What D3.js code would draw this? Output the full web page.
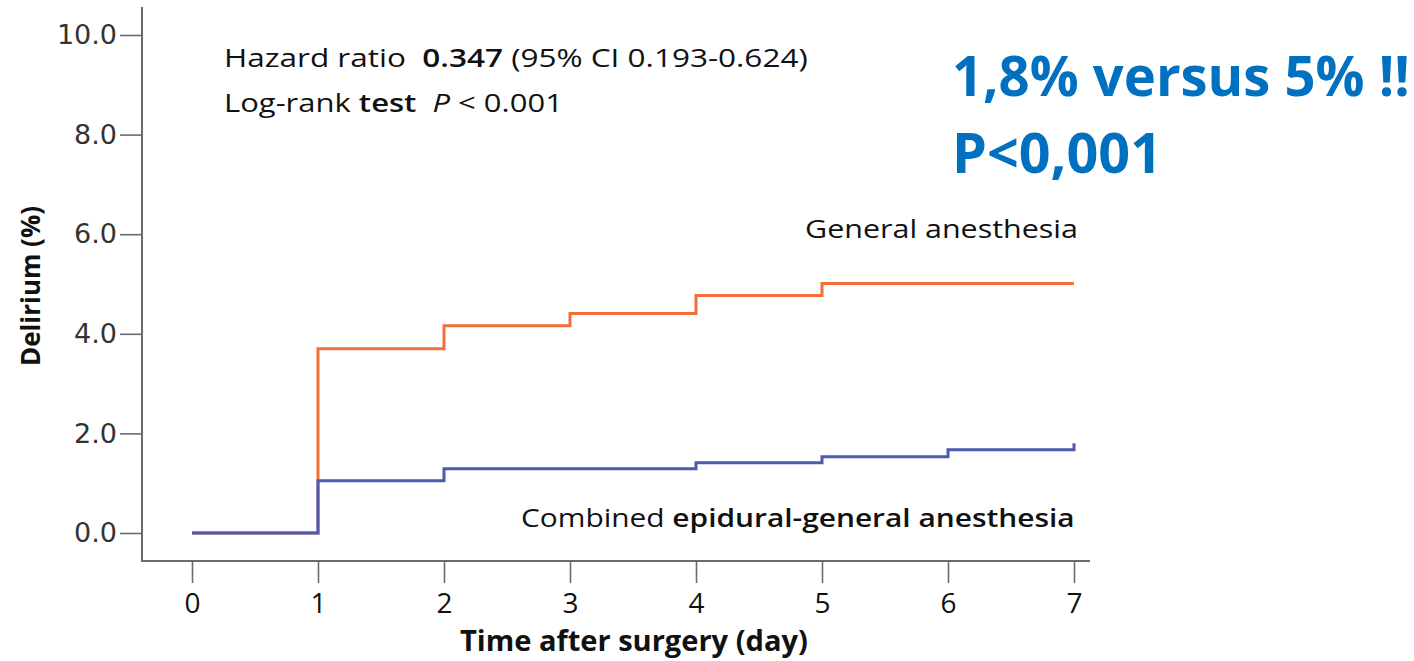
<!DOCTYPE html>
<html>
<head>
<meta charset="utf-8">
<script src="https://cdn.jsdelivr.net/npm/d3@7"></script>
<style>
  html, body { margin: 0; padding: 0; background: #fff; }
  svg { display: block; }
</style>
</head>
<body>
<div id="chart"></div>
<script>
// cumulative incidence of delirium (%) by day after surgery
const days = [0, 1, 2, 3, 4, 5, 6, 7];
const generalValues = [0, 3.7, 4.16, 4.41, 4.77, 5.01, 5.01, 5.01];
const combinedValues = [0, 1.05, 1.29, 1.29, 1.41, 1.53, 1.67, 1.8];
const yTicks = [0, 2, 4, 6, 8, 10];
const xTicks = [0, 1, 2, 3, 4, 5, 6, 7];

const W = 1414, H = 661;
const svg = d3.select('#chart').append('svg').attr('width', W).attr('height', H);

const x = d3.scaleLinear().domain([0, 7]).range([192, 1074]);
const y = d3.scaleLinear().domain([0, 10]).range([533, 35]);

// squeeze / stretch a text element so it spans a given width from its start
function fitWidth(sel, x0, target) {
  const w = sel.node().getComputedTextLength();
  sel.attr('transform', `translate(${x0},0) scale(${target / w},1) translate(${-x0},0)`);
}

const axisColor = '#6b6b6b';
const font = '"Open Sans", sans-serif';

// y axis
const yAxis = svg.append('g')
  .attr('transform', 'translate(142,0)')
  .call(d3.axisLeft(y).tickValues(yTicks).tickSize(22).tickPadding(3).tickFormat(d3.format('.1f')));
yAxis.select('.domain').remove();
yAxis.selectAll('.tick line').attr('stroke', axisColor).attr('stroke-width', 1.6);
yAxis.selectAll('.tick text')
  .attr('fill', '#333')
  .style('font-family', '"DejaVu Sans", sans-serif')
  .style('font-size', '27px');

// x axis
const xAxis = svg.append('g')
  .attr('transform', 'translate(0,561)')
  .call(d3.axisBottom(x).tickValues(xTicks).tickSize(22).tickPadding(10).tickFormat(d3.format('d')));
xAxis.select('.domain').remove();
xAxis.selectAll('.tick line').attr('stroke', axisColor).attr('stroke-width', 1.6);
xAxis.selectAll('.tick text')
  .attr('fill', '#111')
  .style('font-family', font)
  .style('font-size', '28px');

// axis frame lines
svg.append('line').attr('x1', 142).attr('x2', 142).attr('y1', 7).attr('y2', 562)
  .attr('stroke', axisColor).attr('stroke-width', 2);
svg.append('line').attr('x1', 141).attr('x2', 1090).attr('y1', 561).attr('y2', 561)
  .attr('stroke', axisColor).attr('stroke-width', 2.2);

// step curves
const line = d3.line()
  .x((d, i) => x(days[i]))
  .y(d => y(d))
  .curve(d3.curveStepAfter);

svg.append('path').datum(generalValues)
  .attr('d', line).attr('fill', 'none')
  .attr('stroke', '#f26f3c').attr('stroke-width', 3);
svg.append('path').datum(combinedValues)
  .attr('d', line).attr('fill', 'none')
  .attr('stroke', '#4a5bb0').attr('stroke-width', 3);

// annotations
const t1 = svg.append('text').attr('x', 224).attr('y', 67)
  .style('font-family', font).style('font-size', '25px').attr('fill', '#111');
t1.append('tspan').text('Hazard ratio\u00a0 ');
t1.append('tspan').attr('font-weight', 600).text('0.347');
t1.append('tspan').text(' (95% CI 0.193-0.624)');
fitWidth(t1, 224, 584);

const t2 = svg.append('text').attr('x', 224).attr('y', 112)
  .style('font-family', font).style('font-size', '25px').attr('fill', '#111');
t2.append('tspan').text('Log-rank ');
t2.append('tspan').attr('font-weight', 600).text('test\u00a0 ');
t2.append('tspan').attr('font-style', 'italic').text('P');
t2.append('tspan').text(' < 0.001');
fitWidth(t2, 224, 339);

const t3 = svg.append('text').attr('x', 805).attr('y', 238)
  .style('font-family', font).style('font-size', '25px').attr('font-weight', 500)
  .attr('fill', '#111').text('General anesthesia');
fitWidth(t3, 805, 273);

const t4 = svg.append('text').attr('x', 521).attr('y', 527)
  .style('font-family', font).style('font-size', '25px').attr('fill', '#111');
t4.append('tspan').text('Combined ');
t4.append('tspan').attr('font-weight', 600).text('epidural-general anesthesia');
fitWidth(t4, 521, 554);

// axis titles
const xt = svg.append('text').attr('x', 460).attr('y', 651)
  .style('font-family', font).style('font-size', '28px').attr('font-weight', 700)
  .attr('fill', '#111').text('Time after surgery (day)');
fitWidth(xt, 460, 348);

svg.append('text')
  .attr('transform', 'translate(40,286) rotate(-90)')
  .attr('text-anchor', 'middle')
  .style('font-family', font).style('font-size', '27px').attr('font-weight', 700)
  .attr('textLength', 160).attr('lengthAdjust', 'spacingAndGlyphs')
  .attr('fill', '#111').text('Delirium (%)');

// blue callout
const c1 = svg.append('text').attr('x', 952).attr('y', 96)
  .style('font-family', font).style('font-size', '56px').attr('font-weight', 700)
  .attr('fill', '#0070c0').text('1,8% versus 5% !!');
fitWidth(c1, 952, 458);
const c2 = svg.append('text').attr('x', 952).attr('y', 173)
  .style('font-family', font).style('font-size', '56px').attr('font-weight', 700)
  .attr('fill', '#0070c0').text('P<0,001');
fitWidth(c2, 952, 210);
</script>
</body>
</html>
